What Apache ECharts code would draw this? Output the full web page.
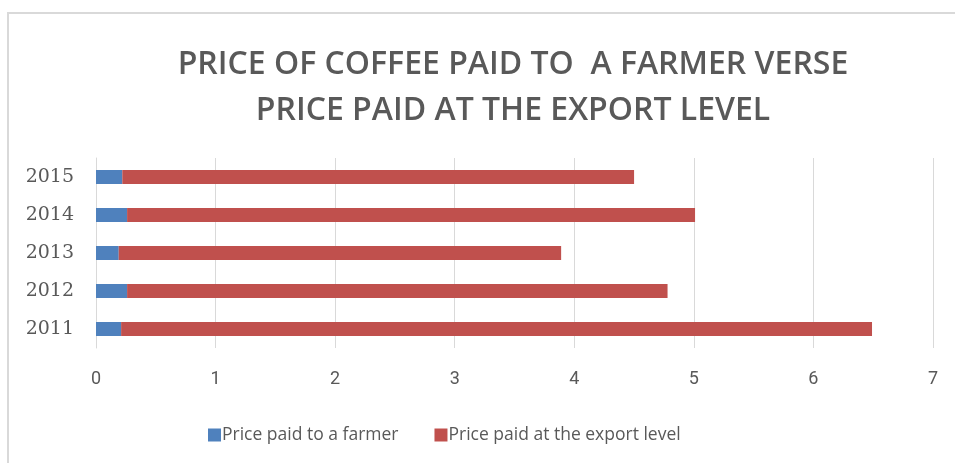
<!DOCTYPE html>
<html>
<head>
<meta charset="utf-8">
<script src="https://cdn.jsdelivr.net/npm/echarts@6/dist/echarts.min.js"></script>
<style>
  html, body { margin: 0; padding: 0; background: #fff; }
  #chart { width: 955px; height: 463px; }
</style>
</head>
<body>
<div id="chart"></div>
<script>
// Years shown on the category axis (bottom to top)
const years = ['2011', '2012', '2013', '2014', '2015'];
// Price paid to a farmer (first segment)
const farmerPrice = [0.21, 0.26, 0.19, 0.26, 0.22];
// Price paid at the export level (stacked segment)
const exportPrice = [6.28, 4.52, 3.70, 4.75, 4.28];
// Value axis ticks
const xTicks = [0, 1, 2, 3, 4, 5, 6, 7];

const chart = echarts.init(document.getElementById('chart'), null, { renderer: 'canvas' });

const textGrey = '#595959';

chart.setOption({
  animation: false,
  backgroundColor: '#ffffff',
  title: {
    text: 'PRICE OF COFFEE PAID TO  A FARMER VERSE\nPRICE PAID AT THE EXPORT LEVEL',
    left: 508,
    top: 37,
    textAlign: 'center',
    textStyle: {
      fontFamily: 'Open Sans',
      fontWeight: 600,
      fontSize: 32,
      lineHeight: 46,
      color: textGrey
    }
  },
  graphic: [
    {
      type: 'polyline',
      silent: true,
      shape: { points: [[8, 463], [8, 13], [955, 13]] },
      style: { stroke: '#d9d9d9', lineWidth: 2, fill: null }
    }
  ],
  legend: {
    bottom: 14,
    left: 203,
    itemWidth: 13,
    itemHeight: 13,
    itemGap: 36,
    icon: 'rect',
    textStyle: { fontFamily: 'Open Sans', fontSize: 17.5, color: textGrey, padding: [0, 0, 0, -4] },
    data: ['Price paid to a farmer', 'Price paid at the export level']
  },
  grid: { left: 96, right: 22, top: 158, bottom: 115, containLabel: false },
  xAxis: {
    type: 'value',
    min: xTicks[0],
    max: xTicks[xTicks.length - 1],
    interval: 1,
    axisLine: { show: false },
    axisTick: { show: false },
    axisLabel: {
      margin: 22,
      fontFamily: 'Liberation Sans Narrow, Roboto',
      fontSize: 18,
      color: textGrey
    },
    splitLine: { lineStyle: { color: '#d9d9d9', width: 1 } }
  },
  yAxis: {
    type: 'category',
    data: years,
    axisLine: { show: true, lineStyle: { color: '#d9d9d9', width: 1 } },
    axisTick: { show: false },
    axisLabel: {
      margin: 22,
      fontFamily: 'DejaVu Serif',
      fontSize: 19,
      color: textGrey
    }
  },
  series: [
    {
      name: 'Price paid to a farmer',
      type: 'bar',
      stack: 'price',
      barWidth: 14,
      itemStyle: { color: '#4F81BD' },
      data: farmerPrice
    },
    {
      name: 'Price paid at the export level',
      type: 'bar',
      stack: 'price',
      barWidth: 14,
      itemStyle: { color: '#C0504D' },
      data: exportPrice
    }
  ]
});
</script>
</body>
</html>
